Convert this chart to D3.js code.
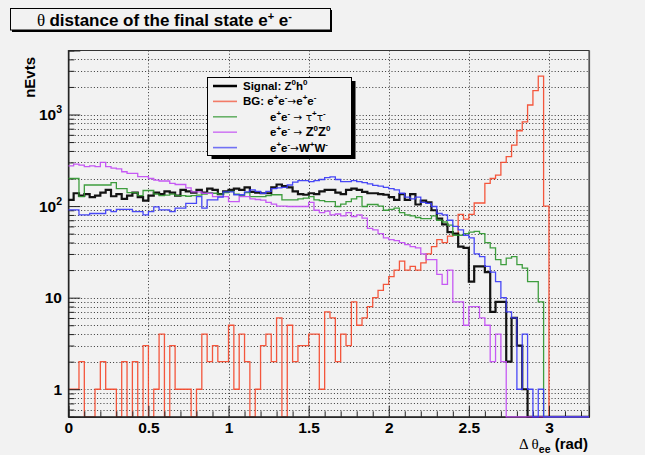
<!DOCTYPE html>
<html><head><meta charset="utf-8">
<script src="https://cdn.jsdelivr.net/npm/d3@7"></script>
<style>
html,body{margin:0;padding:0;background:#f2f2f2;}
svg{display:block;font-family:"Liberation Sans",Arial,sans-serif;}
</style></head><body>
<svg id="c" width="645" height="455"></svg>
<script>
// Histogram binning: fixed-width bins starting at 0 rad
const binWidth = 1 / 30;
const xTicks = [0, 0.5, 1, 1.5, 2, 2.5, 3];
const xTickLabels = ["0", "0.5", "1", "1.5", "2", "2.5", "3"];
const yMajor = [1, 10, 100, 1000];
const yMajorLabels = [["1", ""], ["10", ""], ["10", "2"], ["10", "3"]];

// Event counts per bin
const signalZh = [
  117,138,130,135,125,130,140,150,128,135,
  120,130,140,125,115,130,140,135,145,140,
  130,150,145,140,150,140,155,150,135,145,
  150,155,150,160,143,140,138,138,160,172,
  165,160,145,135,133,138,135,145,150,150,
  140,135,150,155,150,143,138,138,135,133,
  125,117,135,117,135,104,115,110,90,73,
  63,52,50,36,35,15,22,22,19,7,
  9,9,2,6,3,1,0,0,0,0,
  0,0,0,0,0,0,0,0];
const bgEE = [
  1,1,2,0,0,1,2,1,1,0,
  2,0,2,0,3,0,1,4,0,3,
  1,1,1,0,1,4,2,3,2,2,
  5,1,4,2,0,1,3,4,2,6,
  0,5,2,3,3,4,4,1,7,6,
  2,4,3,9,5,6,8,10,12,14,
  17,20,25,20,22,20,24,30,36,43,
  40,47,50,81,72,81,108,108,177,200,
  218,300,347,464,665,830,1270,1820,2630,100,
  0,0,0,0,0,0,0,0];
const bgTauTau = [
  200,200,127,170,170,170,170,170,180,155,
  155,140,140,130,148,148,135,130,132,135,
  130,130,128,130,132,135,140,138,135,140,
  145,135,130,140,127,127,127,130,133,133,
  117,117,117,120,122,127,117,115,112,112,
  99,105,112,120,127,99,104,104,100,90,
  92,95,85,80,78,75,73,73,78,70,
  67,62,48,48,50,52,53,50,40,35,
  26,23,27,28,23,21,15,15,9,0,
  0,0,0,0,0,0,0,0];
const bgZZ = [
  275,287,280,270,275,270,300,270,260,255,
  237,228,228,210,210,200,192,188,188,177,
  172,172,158,143,143,138,138,127,127,127,
  112,112,127,127,120,118,116,110,105,100,
  100,99,99,99,99,110,90,85,88,80,
  82,78,85,77,80,74,57,55,50,45,
  43,42,40,38,36,35,30,26,26,18,
  14,20,9,9,5,8,8,6,5,2,
  4,2,0,0,0,0,0,0,0,0,
  0,0,0,0,0,0,0,0];
const bgWW = [
  91,91,80,80,83,83,83,91,87,92,
  92,92,87,87,80,87,98,91,91,87,
  95,95,107,107,127,95,117,117,125,143,
  143,133,133,143,150,145,138,145,155,158,
  160,170,183,190,190,185,190,195,205,208,
  195,185,185,190,185,180,175,168,165,160,
  155,150,138,125,120,125,110,107,99,83,
  80,70,60,55,48,45,30,28,22,19,
  15,10,7,6,1,4,1,0,1,0,
  0,0,0,0,0,0,0,0];

const series = [
  {name: "signal", values: signalZh, color: "#000000", width: 2.2},
  {name: "ee", values: bgEE, color: "#f4492c", width: 1.3},
  {name: "tautau", values: bgTauTau, color: "#2f962f", width: 1.3},
  {name: "zz", values: bgZZ, color: "#c24cf4", width: 1.3},
  {name: "ww", values: bgWW, color: "#3a3af6", width: 1.3}
];

const svg = d3.select("#c");
const frame = {l: 68.3, r: 589, t: 50.5, b: 416.8};
const yMin = 0.5, yMax = 5000;
const x = d3.scaleLinear().domain([0, 3.25]).range([frame.l, frame.r]);
const y = d3.scaleLog().domain([yMin, yMax]).range([frame.b, frame.t]);

svg.append("rect").attr("width", 645).attr("height", 455).attr("fill", "#f2f2f2");

// Grid: every log tick horizontally, major x ticks vertically
const yGrid = [];
[0.1, 1, 10, 100, 1000].forEach(d => { for (let m = 1; m <= 9; m++) { const v = m * d; if (v > yMin && v < yMax) yGrid.push(v); } });
const grid = svg.append("g").attr("stroke", "#222").attr("stroke-width", 0.9).attr("stroke-dasharray", "1,2.2");
grid.selectAll("line.h").data(yGrid).enter().append("line")
  .attr("x1", frame.l).attr("x2", frame.r).attr("y1", d => Math.round(y(d)) + 0.5).attr("y2", d => Math.round(y(d)) + 0.5);
grid.selectAll("line.v").data(xTicks.filter(d => d > 0)).enter().append("line")
  .attr("y1", frame.t).attr("y2", frame.b).attr("x1", d => Math.round(x(d)) + 0.5).attr("x2", d => Math.round(x(d)) + 0.5);

// Histogram step outlines; empty bins rest on the frame bottom
svg.append("clipPath").attr("id", "clip").append("rect")
  .attr("x", frame.l).attr("y", frame.t).attr("width", frame.r - frame.l).attr("height", frame.b - frame.t + 1.5);
const line = d3.line()
  .x(d => x(d[0]))
  .y(d => d[1] >= yMin ? y(d[1]) : frame.b)
  .curve(d3.curveStepAfter);
function drawHist(s) {
  const pts = s.values.map((v, i) => [i * binWidth, v]);
  pts.push([s.values.length * binWidth, s.values[s.values.length - 1]]);
  svg.append("path").attr("clip-path", "url(#clip)").attr("d", line(pts)).attr("fill", "none")
    .attr("stroke", s.color).attr("stroke-width", s.width).attr("stroke-opacity", 0.92);
}

// The e+e- background is drawn first, underneath the axes
drawHist(series[1]);

// Frame
svg.append("rect").attr("x", frame.l).attr("y", frame.t).attr("width", frame.r - frame.l).attr("height", frame.b - frame.t)
  .attr("fill", "none").attr("stroke", "#333").attr("stroke-width", 1);
svg.append("line").attr("x1", frame.r + 0.5).attr("x2", frame.r + 0.5).attr("y1", frame.t).attr("y2", frame.b)
  .attr("stroke", "#555").attr("stroke-width", 1.2);

// X axis ticks pointing into the frame
const xMinor = d3.range(0, 33).map(i => i / 10).filter(v => Math.abs(v * 2 - Math.round(v * 2)) > 1e-6);
const xAxisMajor = d3.axisBottom(x).tickValues(xTicks).tickSize(-11).tickFormat((d, i) => xTickLabels[i]).tickPadding(13);
const xAxisMinor = d3.axisBottom(x).tickValues(xMinor).tickSize(-5.5).tickFormat("");
const gxm = svg.append("g").attr("transform", `translate(0,${frame.b})`).call(xAxisMinor);
const gx = svg.append("g").attr("transform", `translate(0,${frame.b})`).call(xAxisMajor);
[gx, gxm].forEach(g => { g.select(".domain").attr("stroke", "#222"); g.selectAll(".tick line").attr("stroke", "#222"); });
gx.selectAll(".tick text").attr("font-size", 15.5).attr("font-weight", "bold").attr("fill", "#000")
  .attr("font-family", "Liberation Sans, Arial, sans-serif").attr("dy", "0.2em");

// Y axis ticks (log decades long, sub-decades short)
const yMinorTicks = yGrid.filter(v => !yMajor.includes(v));
const gym = svg.append("g").attr("transform", `translate(${frame.l},0)`).call(d3.axisRight(y).tickValues(yMinorTicks).tickSize(6).tickFormat(""));
const gy = svg.append("g").attr("transform", `translate(${frame.l},0)`).call(d3.axisRight(y).tickValues(yMajor).tickSize(12).tickFormat(""));
[gy, gym].forEach(g => { g.select(".domain").attr("stroke", "#222"); g.selectAll(".tick line").attr("stroke", "#222"); });

// Remaining histograms drawn over the axes
[0, 2, 3, 4].forEach(i => drawHist(series[i]));

const yl = svg.append("g").attr("font-weight", "bold").attr("font-size", 15.5).attr("fill", "#000");
yMajor.forEach((v, i) => {
  const [base, exp] = yMajorLabels[i];
  const t = yl.append("text").attr("text-anchor", "end").attr("x", 62).attr("y", y(v) + 5.5);
  t.append("tspan").text(base);
  if (exp) t.append("tspan").attr("font-size", 10.5).attr("dy", -7).text(exp);
});

// Axis titles
svg.append("text").attr("transform", `translate(35,57) rotate(-90)`).attr("text-anchor", "end")
  .attr("font-weight", "bold").attr("font-size", 15).text("nEvts");
const xt = svg.append("text").attr("x", 588).attr("y", 449).attr("text-anchor", "end").attr("font-size", 15);
xt.append("tspan").attr("font-family", "Liberation Serif, serif").text("Δ θ");
xt.append("tspan").attr("font-weight", "bold").attr("font-size", 10.5).attr("dy", 4).text("ee");
xt.append("tspan").attr("font-weight", "bold").attr("dy", -4).text(" (rad)");

// Title box with shadow
svg.append("rect").attr("x", 12).attr("y", 10).attr("width", 320).attr("height", 22).attr("fill", "#000");
svg.append("rect").attr("x", 10.5).attr("y", 8.5).attr("width", 320).attr("height", 21.5).attr("fill", "#f2f2f2").attr("stroke", "#000");
const tt = svg.append("text").attr("x", 37).attr("y", 26).attr("font-size", 17).attr("font-weight", "bold");
tt.append("tspan").attr("font-family", "Liberation Serif, serif").attr("font-weight", "normal").text("θ ");
tt.append("tspan").text("distance of the final state e");
tt.append("tspan").attr("font-size", 11).attr("dy", -6).text("+");
tt.append("tspan").attr("dy", 6).text(" e");
tt.append("tspan").attr("font-size", 11).attr("dy", -6).text("-");

// Legend
const lg = svg.append("g");
lg.append("rect").attr("x", 211.5).attr("y", 81).attr("width", 144).attr("height", 78).attr("fill", "#000");
lg.append("rect").attr("x", 207.5).attr("y", 77.5).attr("width", 144).attr("height", 78).attr("fill", "#f2f2f2").attr("stroke", "#000");
const legendRows = [
  {s: 0, x: 243, parts: [["Signal: Z"], ["0", "sup"], ["h"], ["0", "sup"]]},
  {s: 1, x: 243, parts: [["BG: e"], ["+", "sup"], ["e"], ["-", "sup"], ["→", "sym"], ["e"], ["+", "sup"], ["e"], ["-", "sup"]]},
  {s: 2, x: 270, parts: [["e"], ["+", "sup"], ["e"], ["-", "sup"], [" → ", "sym"], ["τ", "sym"], ["+", "sup"], ["τ", "sym"], ["-", "sup"]]},
  {s: 3, x: 270, parts: [["e"], ["+", "sup"], ["e"], ["-", "sup"], [" → ", "sym"], ["Z", "big"], ["0", "sup"], ["Z", "big"], ["0", "sup"]]},
  {s: 4, x: 270, parts: [["e"], ["+", "sup"], ["e"], ["-", "sup"], ["→", "sym"], ["W"], ["+", "sup"], ["W"], ["-", "sup"]]}
];
legendRows.forEach((r, i) => {
  const cy = 86 + i * 15.4;
  const s = series[r.s];
  lg.append("line").attr("x1", 213).attr("x2", 237).attr("y1", cy).attr("y2", cy)
    .attr("stroke", s.color).attr("stroke-width", r.s === 0 ? 2.5 : 1.6).attr("stroke-opacity", r.s === 0 ? 1 : 0.7);
  const t = lg.append("text").attr("x", r.x).attr("y", cy + 4).attr("font-size", 11.5).attr("font-weight", "bold");
  let up = false;
  r.parts.forEach(([txt, kind]) => {
    const sp = t.append("tspan").text(txt);
    if (kind === "sup") { sp.attr("font-size", 8).attr("dy", up ? 0 : -5); up = true; }
    else {
      if (up) { sp.attr("dy", 5); up = false; }
      if (kind === "sym") sp.attr("font-family", "DejaVu Sans, sans-serif").attr("font-weight", "normal").attr("font-size", 10.5);
      if (kind === "big") sp.attr("font-size", 13);
    }
  });
});
</script>
</body></html>
